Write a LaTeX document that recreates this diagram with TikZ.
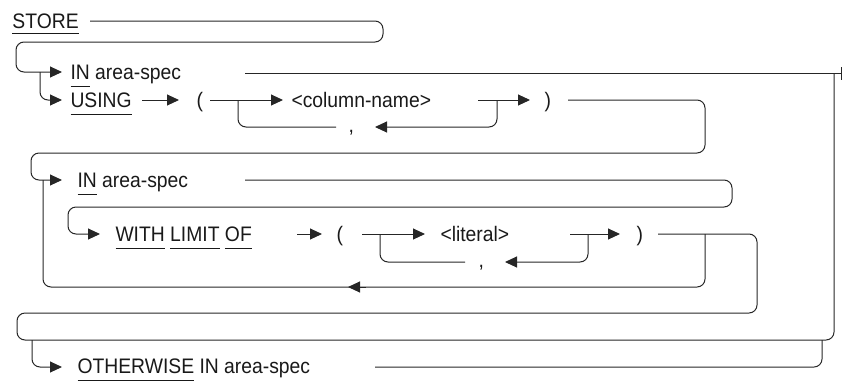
\documentclass[tikz,border=0pt]{standalone}
\usepackage{fontspec}
\setmainfont{Liberation Sans}[FakeStretch=0.92]
\usetikzlibrary{arrows.meta}
\newcommand\ulw[2][7pt]{\setbox0=\hbox{#2}\rlap{\vrule width\wd0 height -#1 depth \dimexpr#1+1pt\relax}\box0\relax}
\tikzset{
  lbl/.style={anchor=base west, inner sep=0pt, font=\fontsize{21}{25}\selectfont, text=black!90},
  conn/.style={rounded corners=8pt},
  arr/.style={-{Triangle[length=12pt,width=11pt]}}
}
\begin{document}
\begin{tikzpicture}[x=1pt,y=-1pt,line width=1pt,draw=black!85]
\useasboundingbox (0,0) rectangle (842,381);
% texts
\node[lbl] (store) at (12,28) {\ulw[5pt]{STORE}};
\node[lbl] (in1) at (70,79) {\ulw{IN} area-spec};
\node[lbl] (using) at (70,107) {\ulw{USING}};
\node[lbl] (lp1) at (196,107) {(};
\node[lbl] (col) at (291,107) {<column-name>};
\node[lbl] (cm1) at (348,132) {,};
\node[lbl] (rp1) at (544,107) {)};
\node[lbl] (in3) at (77,187) {\ulw{IN} area-spec};
\node[lbl] (with) at (115,241) {\ulw{WITH} \ulw{LIMIT} \ulw{OF}};
\node[lbl] (lp2) at (336,241) {(};
\node[lbl] (lit) at (440,241) {<literal>};
\node[lbl] (cm2) at (478,267) {,};
\node[lbl] (rp2) at (636,241) {)};
\node[lbl] (oth) at (77,373) {\ulw{OTHERWISE} IN area-spec};
% junction coordinates
\coordinate (j1) at (40,72);
\coordinate (j2) at (238,100);
\coordinate (j3) at (497,100);
\coordinate (j4) at (43,180);
\coordinate (j5) at (380,234);
\coordinate (j6) at (588,234);
\coordinate (j7) at (705,234);
\coordinate (j8) at (834,73);
\coordinate (j9) at (32,340);
\coordinate (j10) at (822,340);
% STORE -> first choice
\draw[conn,arr] (90,21) -| (383,42) -| (16,72) -- (62,72);
\draw[conn,arr] (j1) |- (62,100);
% IN area-spec row 1
\draw (245,73) -- (841,73);
\draw (841,67) -- (841,80);
% USING ( column-name , ... )
\draw[arr] (142,100) -- (179,100);
\draw[arr] (210,100) -- (283,100);
\draw[conn] (j2) |- (336,127);
\draw[conn,arr] (j3) |- (375,127);
\draw[arr] (478,100) -- (530,100);
\draw[conn,arr] (568,100) -| (705,153) -| (31,180) -- (62,180);
% IN area-spec row 3
\draw[conn,arr] (245,180) -| (732,207) -| (68,234) -- (100,234);
% loop back
\draw[conn] (j4) |- (j7|-0,287) -- (j7);
\draw[arr] (366,287) -- (348,287);
% WITH LIMIT OF ( literal , ... )
\draw[arr] (297,234) -- (322,234);
\draw[arr] (362,234) -- (425,234);
\draw[conn] (j5) |- (465,262);
\draw[conn,arr] (j6) |- (505,262);
\draw[arr] (570,234) -- (620,234);
\draw[conn] (658,234) -| (757,313) -| (17,340) -| (j8);
% OTHERWISE
\draw[conn,arr] (j9) |- (62,367);
\draw[conn] (375,367) -| (j10);
\end{tikzpicture}
\end{document}
